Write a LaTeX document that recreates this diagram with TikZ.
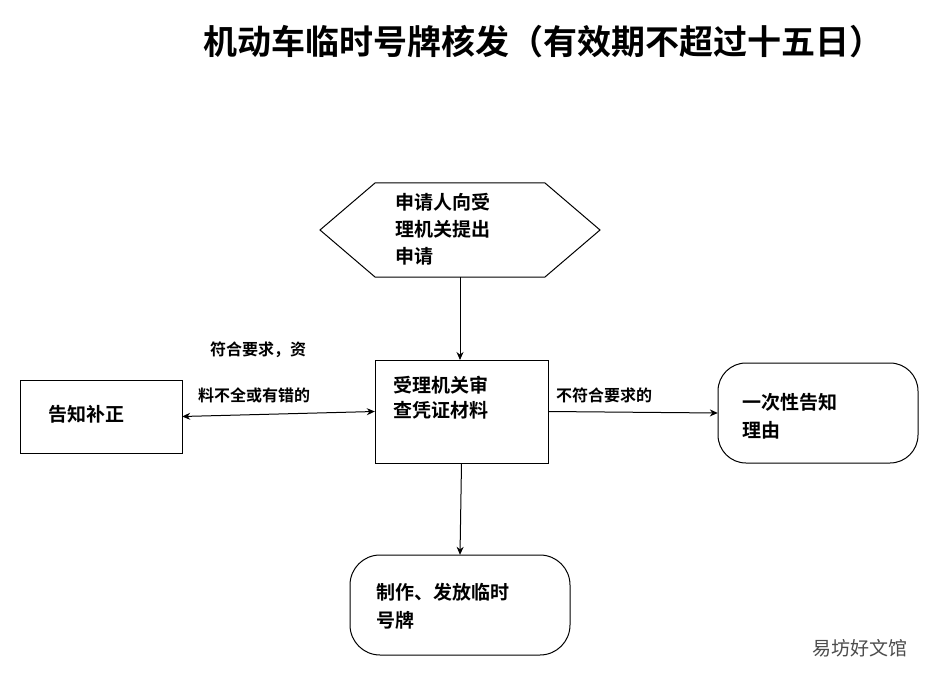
\documentclass[tikz,border=0pt]{standalone}
\usepackage{fontspec}
\usetikzlibrary{arrows.meta}
\setmainfont{Noto Sans CJK SC}
\newfontfamily\cjk{Noto Sans CJK SC}
\newfontfamily\cjkb{Noto Sans CJK SC Bold}
\begin{document}
\begin{tikzpicture}[x=1pt,y=-1pt,
  box/.style={draw,line width=1pt},
  t/.style={anchor=west,font=\cjkb\fontsize{19}{22}\selectfont,inner sep=0pt,align=left},
  lab/.style={anchor=west,font=\cjkb\fontsize{16}{18}\selectfont,inner sep=0pt},
  arr/.style={line width=1pt,-{Stealth[length=8pt,width=7pt]}}]
\useasboundingbox (0,0) rectangle (948,679);
\node[font=\cjkb\fontsize{34}{38}\selectfont] (title) at (543,42) {机动车临时号牌核发（有效期不超过十五日）};
\draw[box] (320,230)--(375,183)--(545,183)--(600,230)--(545,277)--(375,277)--cycle;
\coordinate (hb) at (460,277);
\node[t] (h1) at (395,202) {申请人向受};
\node[t] (h2) at (395,229) {理机关提出};
\node[t] (h3) at (395,256) {申请};
\draw[box] (375,360) rectangle (548,463);
\node (c) at (461.5,411.5) [minimum width=173pt,minimum height=103pt] {};
\node[t] (c1) at (393,385) {受理机关审};
\node[t] (c2) at (393,410) {查凭证材料};
\draw[box] (20,380) rectangle (182,453);
\node (l) at (101,416.5) [minimum width=162pt,minimum height=73pt] {};
\node[t] (l1) at (48,414) {告知补正};
\draw[box,rounded corners=28pt] (718,363) rectangle (918,463);
\node (r) at (818,413) [minimum width=200pt,minimum height=100pt] {};
\node[t] (r1) at (742,402) {一次性告知};
\node[t] (r2) at (742,430) {理由};
\draw[box,rounded corners=30pt] (350,555) rectangle (570,655);
\node (b) at (460,605) [minimum width=220pt,minimum height=100pt] {};
\node[t] (b1) at (376,592) {制作、发放临时};
\node[t] (b2) at (376,620) {号牌};
\draw[arr] (hb) -- (460,360);
\draw[arr,{Stealth[length=8pt,width=7pt]}-{Stealth[length=8pt,width=7pt]}] (l.east) -- (c.west);
\draw[arr] (c.east) -- (r.west);
\draw[arr] (c.south) -- (b.north);
\node[lab] (la1) at (210,350) {符合要求，资};
\node[lab] (la2) at (198,395) {料不全或有错的};
\node[lab] (la3) at (556,395) {不符合要求的};
\node[font=\cjk\fontsize{19}{22}\selectfont,text=black!70] (wm) at (860,648) {易坊好文馆};
\end{tikzpicture}
\end{document}
